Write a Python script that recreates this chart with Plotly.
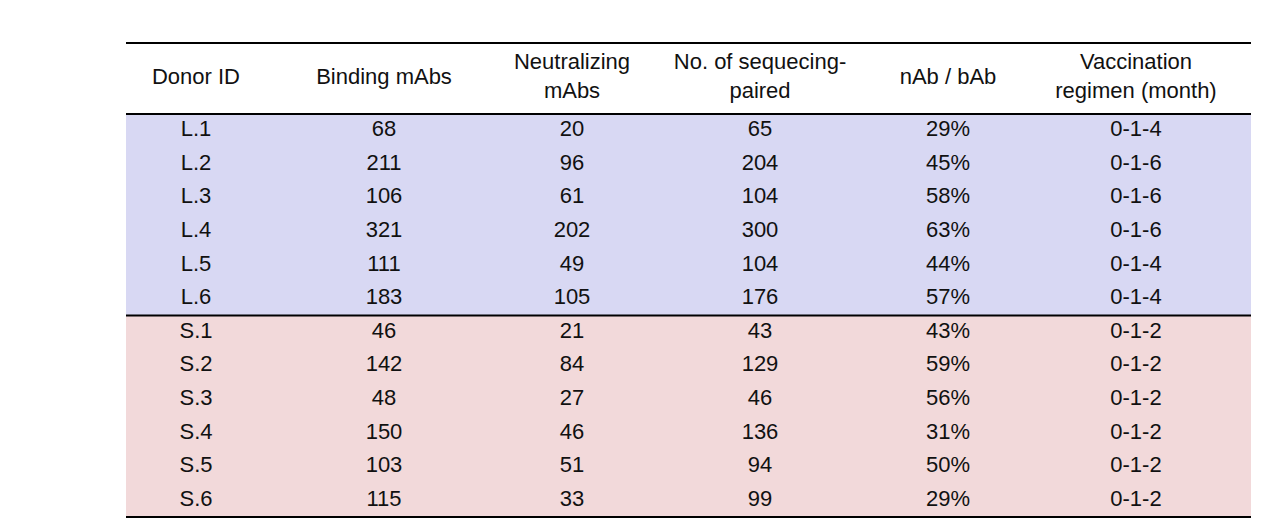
import plotly.graph_objects as go

headers = ["Donor ID", "Binding mAbs", "Neutralizing<br>mAbs", "No. of sequecing-<br>paired",
           "nAb / bAb", "Vaccination<br>regimen (month)"]
donor_ids = ["L.1", "L.2", "L.3", "L.4", "L.5", "L.6", "S.1", "S.2", "S.3", "S.4", "S.5", "S.6"]
binding = [68, 211, 106, 321, 111, 183, 46, 142, 48, 150, 103, 115]
neutralizing = [20, 96, 61, 202, 49, 105, 21, 84, 27, 46, 51, 33]
seq_paired = [65, 204, 104, 300, 104, 176, 43, 129, 46, 136, 94, 99]
ratio = ["29%", "45%", "58%", "63%", "44%", "57%", "43%", "59%", "56%", "31%", "50%", "29%"]
regimen = ["0-1-4", "0-1-6", "0-1-6", "0-1-6", "0-1-4", "0-1-4",
           "0-1-2", "0-1-2", "0-1-2", "0-1-2", "0-1-2", "0-1-2"]

W, H = 1266, 532
columns = [donor_ids, binding, neutralizing, seq_paired, ratio, regimen]
n = len(donor_ids)

# pixel geometry of the reference: column pitch 188px starting at 188, rows 33.6px from y=106
col_px, col0 = 188, 188
row_px, head_y = (509 - 106) / n, 106
xr = [-col0 / col_px, (W - col0) / col_px]
yr = [(H - head_y) / row_px - 0.5, -head_y / row_px - 0.5]
left, right = (118 - col0) / col_px, (1243 - col0) / col_px
top = (35 - head_y) / row_px - 0.5
header_row = (70 - head_y) / row_px - 0.5

font = dict(family="Liberation Sans, Arial", size=22, color="#111")
fig = go.Figure()
for i, col in enumerate(columns):
    fig.add_trace(go.Scatter(x=[i] * n, y=list(range(n)), mode="text",
                             text=[str(v) for v in col], textfont=font,
                             hoverinfo="skip", showlegend=False))
fig.add_trace(go.Scatter(x=list(range(len(headers))), y=[header_row] * len(headers),
                         mode="text", text=headers, textfont=font,
                         hoverinfo="skip", showlegend=False))

n_l = sum(d.startswith("L") for d in donor_ids)
fig.add_shape(type="rect", x0=left, x1=right, y0=-0.5, y1=n_l - 0.5,
              fillcolor="#d8d8f3", line_width=0, layer="below")
fig.add_shape(type="rect", x0=left, x1=right, y0=n_l - 0.5, y1=n - 0.5,
              fillcolor="#f2d9da", line_width=0, layer="below")
for y in (top, -0.5, n_l - 0.5, n - 0.5):
    fig.add_shape(type="line", x0=left, x1=right, y0=y, y1=y,
                  line=dict(color="black", width=2))

fig.update_xaxes(range=xr, visible=False, fixedrange=True)
fig.update_yaxes(range=yr, visible=False, fixedrange=True)
fig.update_layout(width=W, height=H, margin=dict(l=0, r=0, t=0, b=0),
                  paper_bgcolor="white", plot_bgcolor="white")
fig.write_html("out.html")
